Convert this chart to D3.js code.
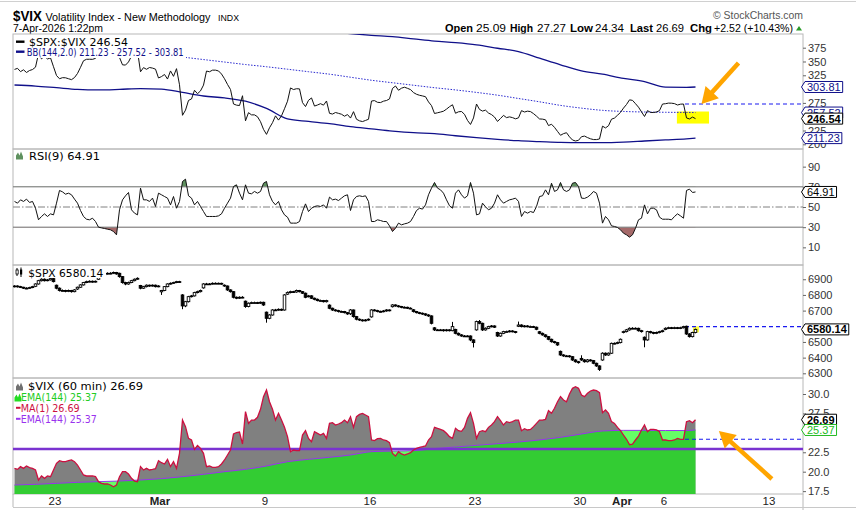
<!DOCTYPE html>
<html><head><meta charset="utf-8">
<script src="https://cdn.jsdelivr.net/npm/d3@7"></script>
<style>body{margin:0;background:#fff;}svg{display:block;font-family:"Liberation Sans",Arial,sans-serif;}</style>
</head><body><svg id="c" width="856" height="510"></svg>
<script>
// ---------------- DATA ----------------
const days = ["Feb 19","Feb 20","Feb 23","Feb 24","Feb 25","Feb 26","Feb 27","Mar 2","Mar 3","Mar 4","Mar 5","Mar 6","Mar 9","Mar 10","Mar 11","Mar 12","Mar 13","Mar 16","Mar 17","Mar 18","Mar 19","Mar 20","Mar 23","Mar 24","Mar 25","Mar 26","Mar 27","Mar 30","Mar 31","Apr 1","Apr 2","Apr 6","Apr 7","Apr 8","Apr 9","Apr 10","Apr 13","Apr 14"];
const barsPerDay = 7;
const xTickDays = ["Feb 23","Mar 2","Mar 9","Mar 16","Mar 23","Mar 30","Apr 1","Apr 6","Apr 13"];
const xTickLabels = ["23","Mar","9","16","23","30","Apr","6","13"];
const xTickBold = [false,true,false,false,false,false,true,false,false];

// $VIX hourly closes
const vix = [
20.43,20.30,20.65,20.43,20.73,20.52,20.43, 20.22,18.93,19.45,19.15,19.45,19.36,20.22,
21.08,21.42,21.29,21.29,21.42,21.51,21.29, 20.86,20.22,19.58,19.45,19.45,19.45,19.36,
18.72,18.50,18.42,18.42,18.29,18.07,18.29, 19.36,20.00,20.00,19.70,19.15,18.80,18.72,
20.65,20.22,20.43,20.22,20.30,20.39,21.42, 21.16,20.99,21.59,20.65,21.29,20.43,22.36,
26.65,25.80,24.29,24.08,22.88,23.39,23.01, 22.36,20.65,20.73,20.56,20.56,20.65,20.99,
21.51,22.15,22.79,24.85,25.02,25.11,23.56, 27.73,26.22,26.65,26.65,27.00,28.03,29.66,
30.51,29.01,28.03,26.65,27.51,26.65,25.71, 24.51,22.58,22.79,22.71,22.71,24.72,25.28,
24.29,23.87,25.15,24.94,24.72,24.94,24.29, 26.22,26.31,26.01,26.14,26.31,26.65,26.31,
27.08,25.71,27.08,27.38,27.51,27.30,27.08, 24.08,24.00,24.25,24.29,24.08,24.00,23.74,
22.36,22.02,22.58,22.28,22.15,22.28,22.45, 22.79,23.01,23.14,23.22,23.31,24.08,24.51,
25.71,25.58,25.45,25.28,24.94,24.51,24.29, 25.58,25.28,25.20,25.71,26.87,27.60,26.22,
24.29,25.15,25.28,25.15,25.71,26.01,26.44, 27.08,26.57,26.01,26.44,26.31,26.44,26.65,
26.65,25.28,25.54,25.37,25.45,25.80,26.22, 26.65,26.65,26.74,27.86,27.51,28.16,29.01,
29.66,29.23,29.01,30.00,30.73,30.94,30.73, 29.87,29.66,30.09,30.39,30.51,30.43,30.17,
27.60,27.94,27.51,26.44,26.22,25.71,25.28, 24.72,24.17,23.48,23.56,24.08,24.59,25.37,
26.01,25.15,25.45,25.45,25.37,25.15,24.08, 24.08,24.00,24.00,24.08,24.29,24.17,24.17,
26.44,26.57,26.31,26.69];

// $SPX hourly candles: open, high, low, close
const spxOpen = [
6853,6857,6853,6849,6843,6843,6847, 6855,6870,6891,6900,6891,6896,6904,
6862,6843,6828,6828,6823,6828,6821, 6838,6849,6864,6879,6885,6887,6883,
6900,6928,6930,6934,6938,6938,6943, 6938,6917,6879,6870,6879,6891,6900,
6860,6843,6853,6862,6857,6862,6853, 6820,6828,6853,6870,6874,6879,6885,
6800,6730,6757,6789,6794,6815,6821, 6845,6870,6870,6870,6874,6874,6874,
6862,6857,6832,6821,6785,6779,6785, 6760,6726,6747,6751,6751,6747,6753,
6690,6651,6672,6704,6704,6708,6704, 6805,6815,6821,6819,6828,6821,6811,
6790,6794,6779,6772,6764,6764,6757, 6735,6715,6704,6700,6694,6694,6687,
6680,6704,6662,6645,6640,6636,6640, 6660,6704,6700,6694,6694,6698,6704,
6725,6736,6730,6726,6721,6721,6715, 6705,6694,6687,6683,6679,6672,6666,
6590,6577,6577,6577,6572,6577,6572, 6580,6555,6545,6538,6538,6538,6513,
6577,6630,6619,6577,6587,6598,6602, 6560,6538,6555,6566,6566,6570,6566,
6600,6608,6598,6602,6598,6598,6594, 6565,6555,6545,6534,6517,6502,6496,
6440,6417,6411,6411,6406,6385,6374, 6395,6385,6374,6385,6381,6364,6347,
6385,6428,6417,6428,6491,6491,6496, 6560,6566,6577,6587,6587,6587,6572,
6530,6513,6566,6560,6555,6560,6566, 6580,6587,6591,6587,6591,6587,6591,
6600,6551,6534,6560];
const spxHigh = [
6862,6861,6858,6852,6849,6852,6858, 6874,6896,6906,6905,6902,6910,6908,
6866,6848,6835,6833,6834,6832,6837, 6853,6868,6883,6891,6893,6892,6892,
6933,6936,6939,6944,6945,6949,6947, 6942,6920,6884,6885,6896,6905,6912,
6864,6858,6867,6866,6867,6866,6862, 6832,6857,6874,6880,6884,6890,6890,
6805,6762,6794,6800,6820,6827,6834, 6875,6877,6876,6880,6880,6879,6878,
6867,6860,6836,6824,6790,6791,6792, 6764,6752,6757,6757,6756,6758,6757,
6694,6677,6709,6711,6714,6713,6805, 6822,6827,6826,6834,6832,6825,6815,
6800,6798,6783,6777,6770,6768,6769, 6740,6719,6709,6705,6700,6698,6691,
6710,6707,6666,6650,6645,6646,6650, 6709,6709,6705,6700,6704,6709,6708,
6741,6740,6735,6730,6727,6725,6721, 6710,6698,6692,6688,6683,6677,6670,
6595,6583,6583,6582,6583,6581,6628, 6584,6560,6550,6544,6543,6542,6517,
6636,6640,6623,6593,6603,6608,6606, 6565,6560,6571,6572,6576,6575,6570,
6630,6613,6608,6607,6604,6603,6598, 6570,6560,6549,6538,6521,6507,6500,
6445,6422,6417,6416,6410,6390,6379, 6415,6390,6391,6390,6385,6368,6351,
6434,6433,6433,6496,6497,6502,6522, 6572,6583,6593,6594,6593,6591,6577,
6535,6571,6571,6565,6566,6571,6578, 6593,6597,6596,6597,6596,6597,6603,
6604,6556,6565,6585];
const spxLow = [
6848,6847,6844,6838,6837,6839,6843, 6850,6866,6886,6886,6887,6892,6880,
6836,6822,6822,6817,6818,6815,6817, 6832,6845,6860,6875,6880,6878,6879,
6895,6923,6925,6930,6932,6933,6929, 6910,6872,6862,6865,6875,6887,6896,
6836,6838,6848,6852,6853,6848,6849, 6800,6824,6849,6866,6870,6875,6878,
6709,6722,6752,6784,6790,6810,6816, 6840,6864,6865,6866,6869,6868,6865,
6852,6826,6815,6778,6773,6774,6779, 6718,6721,6742,6745,6742,6742,6730,
6623,6645,6668,6698,6699,6698,6700, 6800,6810,6813,6814,6816,6806,6779,
6784,6774,6766,6759,6758,6752,6752, 6709,6698,6694,6688,6688,6682,6673,
6672,6655,6638,6634,6630,6631,6635, 6655,6695,6689,6688,6689,6693,6695,
6720,6725,6720,6715,6715,6710,6709, 6688,6682,6677,6673,6666,6660,6612,
6570,6571,6571,6566,6567,6567,6568, 6549,6540,6533,6532,6531,6505,6465,
6572,6613,6570,6572,6582,6593,6589, 6532,6533,6550,6560,6561,6561,6555,
6595,6593,6593,6593,6592,6589,6575, 6549,6540,6528,6511,6496,6490,6475,
6411,6405,6405,6400,6379,6368,6362, 6379,6368,6369,6375,6358,6341,6315,
6380,6411,6412,6424,6485,6486,6491, 6555,6561,6572,6581,6581,6566,6560,
6466,6508,6554,6549,6550,6555,6561, 6575,6582,6582,6582,6582,6582,6586,
6545,6528,6529,6555];
const spxClose = [
6857,6853,6849,6843,6843,6847,6853, 6870,6891,6900,6891,6896,6904,6885,
6843,6828,6828,6823,6828,6821,6832, 6849,6864,6879,6885,6887,6883,6887,
6928,6930,6934,6938,6938,6943,6934, 6917,6879,6870,6879,6891,6900,6906,
6843,6853,6862,6857,6862,6853,6857, 6828,6853,6870,6874,6879,6885,6883,
6730,6757,6789,6794,6815,6821,6828, 6870,6870,6870,6874,6874,6874,6870,
6857,6832,6821,6785,6779,6785,6785, 6726,6747,6751,6751,6747,6753,6736,
6651,6672,6704,6704,6708,6704,6800, 6815,6821,6819,6828,6821,6811,6785,
6794,6779,6772,6764,6764,6757,6764, 6715,6704,6700,6694,6694,6687,6679,
6704,6662,6645,6640,6636,6640,6645, 6704,6700,6694,6694,6698,6704,6700,
6736,6730,6726,6721,6721,6715,6715, 6694,6687,6683,6679,6672,6666,6619,
6577,6577,6577,6572,6577,6572,6598, 6555,6545,6538,6538,6538,6513,6496,
6630,6619,6577,6587,6598,6602,6594, 6538,6555,6566,6566,6570,6566,6560,
6608,6598,6602,6598,6598,6594,6581, 6555,6545,6534,6517,6502,6496,6481,
6417,6411,6411,6406,6385,6374,6368, 6385,6374,6385,6381,6364,6347,6325,
6428,6417,6428,6491,6491,6496,6517, 6566,6577,6587,6587,6587,6572,6566,
6513,6566,6560,6555,6560,6566,6572, 6587,6591,6587,6591,6587,6591,6598,
6551,6534,6560,6580.14];

// RSI(9) of $VIX
const rsi = [
55.5,53.8,57.1,55.5,57.8,54.5,55.5, 48.8,37.3,40.6,43.2,40.6,43.2,42.2,
53.8,66.4,65.0,62.7,63.7,62.1,57.8, 53.8,46.5,40.6,37.9,37.3,38.9,35.6,
30.0,29.3,28.7,28.0,27.4,25.7,22.4, 47.2,57.1,61.1,64.4,47.2,43.9,42.2,
68.7,57.1,57.1,55.5,58.8,50.5,63.7, 62.1,60.4,58.8,52.1,60.4,48.8,55.5,
75.3,77.6,61.1,58.8,52.1,55.5,50.5, 45.5,40.6,40.6,40.6,40.6,41.2,43.2,
48.8,53.8,58.8,70.3,72.0,63.7,57.1, 72.0,63.7,63.1,65.4,63.7,65.4,73.6,
75.3,62.1,55.5,52.1,55.5,47.2,42.2, 39.9,34.0,34.0,34.0,35.6,45.5,53.1,
45.5,48.8,50.5,51.2,50.5,52.1,48.8, 59.8,57.1,57.8,56.4,58.8,61.1,62.1,
46.5,57.1,60.4,61.1,60.4,61.1,55.5, 35.6,35.6,37.3,36.6,35.6,35.6,31.3,
25.7,29.0,34.0,32.3,33.3,34.0,35.6, 40.6,46.5,48.8,47.9,52.1,62.1,68.7,
74.3,68.7,67.0,63.7,57.1,51.2,48.8, 63.7,67.0,62.1,58.8,61.1,74.3,63.7,
42.2,43.2,53.8,50.2,47.2,48.8,53.8, 62.1,57.1,53.8,55.5,57.1,57.8,58.8,
55.5,40.6,45.5,43.9,45.5,44.5,50.5, 60.4,61.1,67.0,62.1,73.6,65.4,67.0,
74.3,67.0,65.4,67.0,73.6,74.3,70.3, 58.8,58.5,59.8,62.1,65.4,63.7,53.8,
34.0,40.6,37.3,31.3,30.7,29.7,27.4, 24.0,22.4,20.1,22.4,29.0,37.3,38.9,
52.1,43.2,48.8,48.8,47.2,39.9,37.9, 37.9,37.9,37.3,40.6,43.2,41.2,38.9,
66.4,67.7,64.4,64.91];

// EMA(144) of $VIX  [bar, value]
const vixEma = [[0,18.29],[7,18.37],[14,18.50],[21,18.63],[28,18.72],[35,18.80],[42,18.93],[49,19.10],[56,19.36],[63,19.66],[70,20.00],[77,20.30],[84,20.73],[91,21.29],[98,21.59],[105,21.85],[112,22.15],[119,22.58],[126,22.66],[133,22.71],[140,22.97],[147,23.18],[154,23.39],[161,23.60],[168,23.82],[175,24.08],[182,24.42],[189,24.85],[196,25.24],[203,25.32],[210,25.32],[217,25.30],[224,25.30],[227,25.37]];

// Bollinger Bands (144,2.0) of $SPX:$VIX  [bar, value]
const bbUpper = [[105,404],[112,400.5],[119,397.4],[126,395],[133,391],[140,387],[147,384],[154,380],[161,374],[168,368],[175,356],[182,344],[189,333],[196,327],[203,319.5],[210,313.5],[217,303.5],[224,303.2],[227,303.81]];
const bbMiddle = [[56,358],[63,353.5],[70,349],[77,344.5],[84,340.5],[91,336],[98,331.5],[105,327],[112,321.5],[119,316],[126,311.5],[133,307],[140,302.5],[147,298.5],[154,294],[161,289],[168,283],[175,277],[182,270.5],[189,265.5],[196,261.5],[203,259.5],[210,258.5],[217,258],[224,257.7],[227,257.52]];
const bbLower = [[0,307.4],[7,305.5],[14,302.5],[21,299.5],[28,298.5],[35,299.5],[42,301],[49,300],[56,294],[63,287.5],[70,284],[77,278],[84,265],[91,246],[98,241.5],[105,237.5],[112,232],[119,228],[126,224],[133,221],[140,219.5],[147,215.5],[154,212],[161,209],[168,206.5],[175,205],[182,203.5],[189,203],[196,203],[203,204],[210,206],[217,208],[224,210],[227,211.23]];

const prevClose = {spx: 6598, vix: 24.17};
const vixHLine = 22.93;

// visible axis labels (the others sit under the value boxes)
const ratioTicks = [200,225,275,325,350,375];
const rsiTicks = [10,30,50,70,90];
const spxTicks = [6300,6400,6500,6700,6800,6900];
const vixTicks = [17.5,20,22.5,27.5,30];

const quote = [["Open","25.09"],["High","27.27"],["Low","24.34"],["Last","26.69"],["Chg","+2.52 (+10.43%)"]];

// ---------------- LAYOUT ----------------
const svg = d3.select('#c');
const L = 13, R = 803;
const P1 = {top:34, bot:149}, P2 = {top:149, bot:265}, P3 = {top:265, bot:378}, P4 = {top:378, bot:494};
const x = d3.scaleLinear().domain([0, (R-L)/3]).range([L, R]);
const gx = i => x(i + 0.5);
const dayBar = d => days.indexOf(d) * barsPerDay;

const yR1 = d3.scaleLinear().domain([191.5, 399.8]).range([P1.bot, P1.top]);
const yRsi = d3.scaleLinear().domain([-7.5, 107.5]).range([P2.bot, P2.top]);
const ySpx = d3.scaleLinear().domain([6270, 6991]).range([P3.bot, P3.top]);
const yVix = d3.scaleLinear().domain([17.13, 32.06]).range([P4.bot, P4.top]);

const ratio = spxClose.map((s, i) => s / vix[i]);
const lastBar = vix.length - 1;

const defs = svg.append('defs');
function clipRect(id, x0, y0, x1, y1) {
  defs.append('clipPath').attr('id', id).append('rect').attr('x', x0).attr('y', y0).attr('width', x1 - x0).attr('height', y1 - y0);
}
[P1, P2, P3, P4].forEach((p, k) => clipRect('cp' + (k + 1), L, p.top, R, p.bot));

svg.append('line').attr('x1', 0).attr('x2', 856).attr('y1', 1.5).attr('y2', 1.5).attr('stroke', '#d0d0d0');

// ---------- header ----------
svg.append('text').attr('x', 13).attr('y', 20.5).text('$VIX').attr('font-weight', 'bold').attr('font-size', 15.5).attr('textLength', 29).attr('lengthAdjust', 'spacingAndGlyphs');
svg.append('text').attr('x', 45.5).attr('y', 20.5).text('Volatility Index - New Methodology').attr('font-size', 10.8).attr('textLength', 165).attr('lengthAdjust', 'spacingAndGlyphs');
svg.append('text').attr('x', 218).attr('y', 20.5).text('INDX').attr('font-size', 8.5).attr('textLength', 21).attr('lengthAdjust', 'spacingAndGlyphs');
svg.append('text').attr('x', 13).attr('y', 32).text('7-Apr-2026 1:22pm').attr('font-size', 11).attr('textLength', 90).attr('lengthAdjust', 'spacingAndGlyphs');
svg.append('text').attr('x', 713).attr('y', 19).text('© StockCharts.com').attr('font-size', 11).attr('fill', '#555').attr('textLength', 90).attr('lengthAdjust', 'spacingAndGlyphs');
const quoteLayout = [[445, 28, 476, 30], [510, 23, 537, 29], [570, 23, 595, 29], [630, 23, 656, 28], [690, 22, 714, 79]];
quote.forEach((q, k) => {
  const lay = quoteLayout[k];
  svg.append('text').attr('x', lay[0]).attr('y', 31.5).text(q[0]).attr('font-weight', 'bold').attr('font-size', 11.5).attr('textLength', lay[1]).attr('lengthAdjust', 'spacingAndGlyphs');
  svg.append('text').attr('x', lay[2]).attr('y', 31.5).text(q[1]).attr('font-size', 11.5).attr('textLength', lay[3]).attr('lengthAdjust', 'spacingAndGlyphs');
});
svg.append('path').attr('d', 'M796,30.5 L802,30.5 L799,26 Z').attr('fill', '#2a9a2a');

// ---------- panel frames ----------
[P1, P2, P3, P4].forEach(p => {
  svg.append('rect').attr('x', L).attr('y', p.top).attr('width', R - L).attr('height', p.bot - p.top).attr('fill', 'none').attr('stroke', '#b8b8b8');
});
svg.append('line').attr('x1', L).attr('x2', L).attr('y1', P4.bot).attr('y2', 507).attr('stroke', '#b8b8b8');
svg.append('line').attr('x1', R).attr('x2', R).attr('y1', P4.bot).attr('y2', 510).attr('stroke', '#b8b8b8');
svg.append('line').attr('x1', L).attr('x2', 856).attr('y1', 507.5).attr('y2', 507.5).attr('stroke', '#c8c8c8');

const dash = (g, y, color) => g.append('line').attr('x1', gx(lastBar - 3) - 1.5).attr('x2', R).attr('y1', y).attr('y2', y).attr('stroke', color).attr('stroke-dasharray', '4,3').attr('stroke-width', 1.1);

// ---------- panel 1: $SPX:$VIX ----------
const g1 = svg.append('g').attr('clip-path', 'url(#cp1)');
g1.append('rect').attr('x', x(221.3)).attr('y', yR1(259.4)).attr('width', x(232) - x(221.3)).attr('height', yR1(237.6) - yR1(259.4)).attr('fill', '#ffff00');
const bbLine = d3.line().x(d => gx(d[0])).y(d => yR1(d[1])).curve(d3.curveMonotoneX);
g1.append('path').attr('d', bbLine(bbUpper)).attr('fill', 'none').attr('stroke', '#10108a').attr('stroke-width', 1.3);
g1.append('path').attr('d', bbLine(bbLower)).attr('fill', 'none').attr('stroke', '#10108a').attr('stroke-width', 1.3);
g1.append('path').attr('d', bbLine(bbMiddle)).attr('fill', 'none').attr('stroke', '#2a2ad0').attr('stroke-width', 1).attr('stroke-dasharray', '1.5,1.5');
g1.append('path').attr('d', d3.line().x((d, i) => gx(i)).y(d => yR1(d))(ratio)).attr('fill', 'none').attr('stroke', '#111').attr('stroke-width', 1);
dash(g1, yR1(prevClose.spx / prevClose.vix), '#1a1af0');

// ---------- panel 2: RSI ----------
const g2 = svg.append('g').attr('clip-path', 'url(#cp2)');
clipRect('cpOB', L, P2.top, R, yRsi(70));
clipRect('cpOS', L, yRsi(30), R, P2.bot);
const rsiX = (d, i) => gx(i);
g2.append('g').attr('clip-path', 'url(#cpOB)').append('path').attr('d', d3.area().x(rsiX).y0(yRsi(70)).y1(d => yRsi(d))(rsi)).attr('fill', '#5f915f');
g2.append('g').attr('clip-path', 'url(#cpOS)').append('path').attr('d', d3.area().x(rsiX).y0(yRsi(30)).y1(d => yRsi(d))(rsi)).attr('fill', '#a56a6a');
[70, 30].forEach(v => g2.append('line').attr('x1', L).attr('x2', R).attr('y1', yRsi(v)).attr('y2', yRsi(v)).attr('stroke', '#707070'));
g2.append('line').attr('x1', L).attr('x2', R).attr('y1', yRsi(50)).attr('y2', yRsi(50)).attr('stroke', '#808080').attr('stroke-dasharray', '7,2,1.5,2');
g2.append('path').attr('d', d3.line().x(rsiX).y(d => yRsi(d))(rsi)).attr('fill', 'none').attr('stroke', '#111').attr('stroke-width', 1);

// ---------- panel 3: $SPX candles ----------
const g3 = svg.append('g').attr('clip-path', 'url(#cp3)');
g3.append('rect').attr('x', gx(lastBar) - 2.5).attr('y', ySpx(spxClose[lastBar]) - 3).attr('width', 6).attr('height', 6).attr('fill', '#ffff40');
dash(g3, ySpx(prevClose.spx), '#1a1af0');
g3.selectAll('line.wk').data(spxClose).join('line').attr('class', 'wk')
  .attr('x1', (d, i) => gx(i)).attr('x2', (d, i) => gx(i))
  .attr('y1', (d, i) => ySpx(spxHigh[i])).attr('y2', (d, i) => ySpx(spxLow[i]))
  .attr('stroke', '#000').attr('stroke-width', 1);
g3.selectAll('rect.cdl').data(spxClose).join('rect').attr('class', 'cdl')
  .attr('x', (d, i) => gx(i) - 1.3).attr('width', 2.6)
  .attr('y', (d, i) => ySpx(Math.max(d, spxOpen[i])))
  .attr('height', (d, i) => Math.max(0.8, Math.abs(ySpx(d) - ySpx(spxOpen[i]))))
  .attr('fill', (d, i) => d >= spxOpen[i] ? '#fff' : '#000')
  .attr('stroke', '#000').attr('stroke-width', 0.9);

// ---------- panel 4: $VIX ----------
const g4 = svg.append('g').attr('clip-path', 'url(#cp4)');
g4.append('path').attr('d', d3.area().x((d, i) => gx(i)).y0(P4.bot).y1(d => yVix(d))(vix)).attr('fill', '#808080');
g4.append('path').attr('d', d3.area().x(d => gx(d[0])).y0(P4.bot).y1(d => yVix(d[1])).curve(d3.curveMonotoneX)(vixEma)).attr('fill', '#00ff00').attr('fill-opacity', 0.6);
g4.append('path').attr('d', d3.line().x(d => gx(d[0])).y(d => yVix(d[1])).curve(d3.curveMonotoneX)(vixEma)).attr('fill', 'none').attr('stroke', '#9933ee').attr('stroke-width', 1);
g4.append('line').attr('x1', L).attr('x2', R).attr('y1', yVix(vixHLine)).attr('y2', yVix(vixHLine)).attr('stroke', '#7a33d0').attr('stroke-width', 2.6);
g4.append('path').attr('d', d3.line().x((d, i) => gx(i)).y(d => yVix(d))(vix)).attr('fill', 'none').attr('stroke', '#cc1040').attr('stroke-width', 1.3);
dash(g4, yVix(prevClose.vix), '#1a1af0');

// ---------- legends ----------
function legText(xp, yp, txt, color, w) {
  return svg.append('text').attr('x', xp).attr('y', yp).text(txt).attr('fill', color)
    .style('font-family', '"DejaVu Sans",sans-serif').style('font-size', '10px')
    .attr('textLength', w).attr('lengthAdjust', 'spacingAndGlyphs');
}
function bg(x0, y0, x1, y1) { svg.append('rect').attr('x', x0).attr('y', y0).attr('width', x1 - x0).attr('height', y1 - y0).attr('fill', '#fff'); }
function mountain(x0, y1, color) {
  svg.append('path').attr('d', `M${x0},${y1} L${x0},${y1 - 4} L${x0 + 2},${y1 - 7} L${x0 + 3.5},${y1 - 4} L${x0 + 5},${y1 - 8} L${x0 + 7},${y1 - 3} L${x0 + 7},${y1} Z`).attr('fill', color);
}
bg(14, 35, 186, 58);
svg.append('line').attr('x1', 16).attr('x2', 24.5).attr('y1', 41.7).attr('y2', 41.7).attr('stroke', '#000').attr('stroke-width', 2.4);
legText(29, 45.5, '$SPX:$VIX ' + ratio[lastBar].toFixed(2), '#000', 99);
svg.append('line').attr('x1', 16).attr('x2', 24.5).attr('y1', 51.7).attr('y2', 51.7).attr('stroke', '#10108a').attr('stroke-width', 2.4);
legText(26.7, 55.8, 'BB(144,2.0) 211.23 - 257.52 - 303.81', '#10108a', 157);
bg(14, 150, 102, 161);
mountain(16, 159.5, '#5f915f');
legText(29, 160, 'RSI(9) ' + rsi[lastBar].toFixed(2), '#000', 71);
bg(14, 266, 106, 278);
svg.append('path').attr('d', 'M17,268 V276 M21,267.5 V277').attr('stroke', '#000').attr('stroke-width', 1);
svg.append('rect').attr('x', 16).attr('y', 270).attr('width', 2.2).attr('height', 4).attr('fill', '#fff').attr('stroke', '#000').attr('stroke-width', 0.8);
svg.append('rect').attr('x', 20).attr('y', 269.5).attr('width', 2.2).attr('height', 5).attr('fill', '#000');
legText(28.3, 276.5, '$SPX ' + spxClose[lastBar].toFixed(2), '#000', 75);
bg(14, 380, 144, 391); bg(14, 392, 98, 402); bg(14, 403, 81, 413); bg(14, 414, 98, 424);
mountain(16, 390.5, '#707070');
legText(28, 390, '$VIX (60 min) ' + vix[lastBar].toFixed(2), '#000', 115);
mountain(14.5, 401.5, '#22dd22');
legText(21, 401, 'EMA(144) 25.37', '#22cc22', 76);
svg.append('line').attr('x1', 16).attr('x2', 20.5).attr('y1', 407.8).attr('y2', 407.8).attr('stroke', '#cc1040').attr('stroke-width', 2);
legText(20.7, 412, 'MA(1) ' + vix[lastBar].toFixed(2), '#cc1040', 59);
svg.append('line').attr('x1', 16).attr('x2', 20.5).attr('y1', 418.8).attr('y2', 418.8).attr('stroke', '#9933ee').attr('stroke-width', 2);
legText(20.7, 423, 'EMA(144) 25.37', '#9933ee', 76);

// ---------- y axes ----------
function yAxis(scale, ticks, fmt) {
  const g = svg.append('g').attr('transform', `translate(${R},0)`)
    .call(d3.axisRight(scale).tickValues(ticks).tickSize(3).tickPadding(2).tickFormat(fmt));
  g.select('.domain').remove();
  g.selectAll('line').attr('stroke', '#666');
  g.selectAll('text').attr('fill', '#333').style('font-size', '11px').style('font-family', '"Liberation Sans",Arial,sans-serif');
}
yAxis(yR1, ratioTicks, d3.format('d'));
yAxis(yRsi, rsiTicks, d3.format('d'));
yAxis(ySpx, spxTicks, d3.format('d'));
yAxis(yVix, vixTicks, d3.format('.1f'));

// ---------- value boxes ----------
function valueBox(y, txt, color, bold) {
  const g = svg.append('g');
  const t = g.append('text').attr('x', 807).attr('y', y + 4).text(txt).attr('fill', color)
    .style('font-size', '11px').style('font-weight', bold ? 'bold' : 'normal');
  const w = t.node().getComputedTextLength();
  g.insert('path', 'text').attr('d', `M801.5,${y} L805,${y - 5.5} H${809 + w} V${y + 5.5} H805 Z`).attr('fill', '#fff').attr('stroke', color).attr('stroke-width', 1);
}
valueBox(yR1(bbUpper[bbUpper.length - 1][1]), '303.81', '#10108a', false);
valueBox(yR1(bbMiddle[bbMiddle.length - 1][1]), '257.52', '#10108a', false);
valueBox(yR1(bbLower[bbLower.length - 1][1]), '211.23', '#10108a', false);
valueBox(yR1(ratio[lastBar]), ratio[lastBar].toFixed(2), '#000', true);
valueBox(yRsi(rsi[lastBar]), rsi[lastBar].toFixed(2), '#000', false);
valueBox(ySpx(spxClose[lastBar]), spxClose[lastBar].toFixed(2), '#000', true);
valueBox(yVix(vix[lastBar]), vix[lastBar].toFixed(2), '#000', true);
valueBox(yVix(vixEma[vixEma.length - 1][1]), vixEma[vixEma.length - 1][1].toFixed(2), '#22bb22', false);

// ---------- x axis labels ----------
xTickDays.forEach((d, k) => {
  svg.append('text').attr('x', x(dayBar(d))).attr('y', 505).attr('text-anchor', 'middle')
    .text(xTickLabels[k]).attr('font-size', 11.5).attr('font-weight', xTickBold[k] ? 'bold' : 'normal').attr('fill', '#222');
});

// ---------- annotations ----------
function arrow(tip, dx, dy) {
  const len = Math.hypot(dx, dy), ux = -dx / len, uy = -dy / len;
  const hl = 16, hw = 9;
  const bx = tip[0] - ux * hl, by = tip[1] - uy * hl;
  svg.append('line').attr('x1', tip[0] + dx).attr('y1', tip[1] + dy).attr('x2', bx + ux * 1).attr('y2', by + uy * 1)
    .attr('stroke', '#ffa500').attr('stroke-width', 4.5);
  svg.append('path').attr('d', `M${tip[0]},${tip[1]} L${bx - uy * hw},${by + ux * hw} L${bx + uy * hw},${by - ux * hw} Z`).attr('fill', '#ffa500');
}
arrow([x(229.5), yR1(273)], 37, -41);
arrow([x(235.3), yVix(25.24)], 53, 48);
</script>
</body></html>
